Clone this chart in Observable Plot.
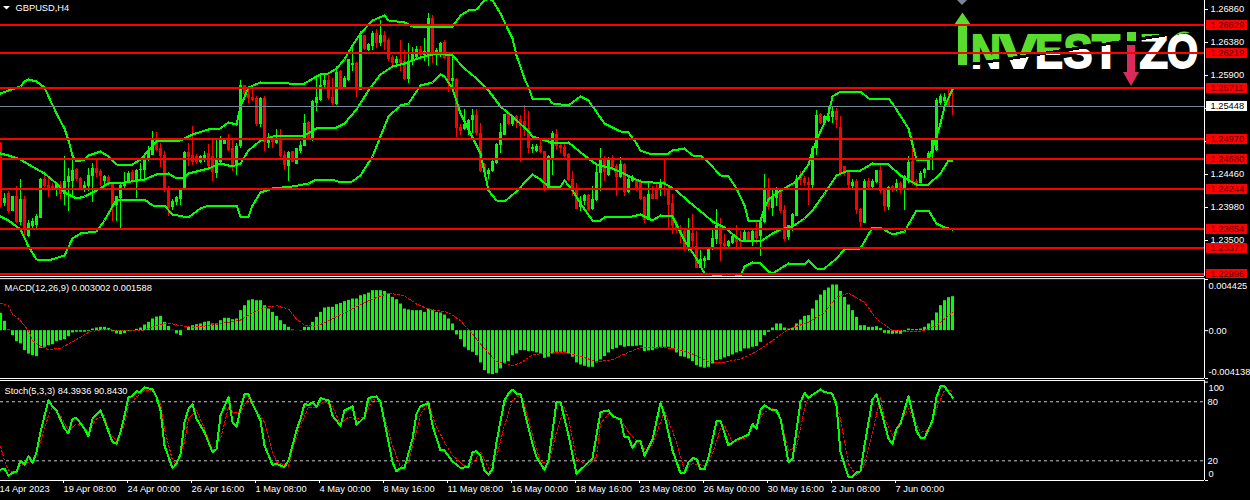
<!DOCTYPE html>
<html><head><meta charset="utf-8">
<script src="https://cdn.jsdelivr.net/npm/d3@7"></script>
<script src="https://cdn.jsdelivr.net/npm/@observablehq/plot@0.6"></script>
<style>
html,body{margin:0;padding:0;background:#000;width:1250px;height:500px;overflow:hidden}
#chart{position:relative;width:1250px;height:500px;background:#000}
#chart svg{position:absolute;left:0;overflow:hidden}
</style></head><body><div id="chart"></div>
<script>
// prices in units of 0.0001
const opens=[12491,12404,12418,12392,12413,12376,12410,12355,12370,12372,
12382,12439,12430,12429,12423,12430,12417,12434,12435,12453,
12440,12426,12428,12443,12455,12450,12435,12442,12433,12400,
12411,12429,12434,12448,12434,12451,12452,12467,12474,12497,
12483,12474,12426,12398,12405,12410,12423,12478,12473,12472,
12464,12469,12476,12472,12447,12464,12490,12498,12483,12457,
12486,12575,12562,12558,12557,12518,12556,12491,12495,12491,
12499,12473,12458,12479,12461,12480,12487,12521,12498,12550,
12553,12575,12583,12558,12548,12596,12573,12583,12605,12608,
12569,12648,12627,12633,12651,12637,12648,12641,12617,12608,
12613,12610,12585,12611,12617,12628,12620,12620,12673,12620,
12620,12638,12620,12581,12585,12515,12512,12511,12524,12532,
12506,12460,12446,12450,12462,12488,12503,12535,12518,12531,
12526,12523,12513,12482,12480,12486,12479,12426,12469,12504,
12488,12485,12475,12438,12424,12398,12406,12415,12395,12408,
12447,12467,12445,12469,12457,12442,12460,12419,12435,12438,
12436,12412,12379,12416,12423,12424,12435,12426,12403,12372,
12365,12362,12338,12360,12341,12309,12319,12321,12336,12351,
12371,12345,12341,12345,12356,12349,12348,12361,12348,12362,
12356,12376,12423,12396,12411,12422,12393,12354,12370,12385,
12443,12440,12434,12430,12484,12533,12521,12523,12529,12537,
12515,12457,12450,12429,12435,12395,12375,12436,12427,12434,
12451,12422,12398,12429,12422,12432,12422,12440,12465,12435,
12433,12447,12452,12476,12481,12550,12552,12555,12546];
const highs=[12492,12418,12421,12413,12428,12439,12413,12379,12382,12387,
12440,12450,12443,12433,12434,12435,12472,12455,12473,12455,
12441,12435,12455,12462,12468,12453,12445,12445,12434,12413,
12434,12448,12450,12451,12453,12462,12472,12486,12508,12507,
12491,12479,12428,12409,12413,12426,12479,12491,12516,12475,
12474,12479,12489,12496,12495,12501,12498,12504,12496,12491,
12583,12576,12571,12571,12559,12558,12560,12506,12501,12512,
12512,12479,12479,12479,12484,12494,12534,12523,12553,12586,
12592,12592,12592,12586,12603,12597,12588,12614,12634,12609,
12654,12649,12637,12654,12657,12670,12654,12644,12620,12618,
12641,12626,12637,12631,12632,12632,12644,12680,12678,12630,
12639,12641,12622,12617,12586,12518,12540,12526,12541,12540,
12520,12462,12455,12466,12491,12520,12534,12536,12532,12532,
12532,12547,12537,12490,12489,12496,12480,12473,12508,12511,
12490,12492,12477,12450,12433,12413,12417,12416,12428,12462,
12484,12472,12471,12473,12460,12471,12462,12445,12445,12439,
12438,12413,12434,12428,12434,12438,12467,12430,12416,12377,
12372,12365,12382,12387,12362,12335,12326,12338,12367,12395,
12382,12358,12350,12358,12372,12362,12364,12362,12364,12379,
12379,12446,12440,12426,12427,12423,12400,12372,12389,12444,
12450,12443,12442,12486,12539,12535,12532,12544,12544,12542,
12530,12458,12452,12439,12438,12396,12438,12440,12438,12452,
12460,12424,12428,12430,12439,12435,12444,12472,12500,12438,
12450,12455,12479,12498,12557,12562,12564,12570,12571];
const lows=[12398,12399,12389,12392,12374,12372,12354,12354,12367,12366,
12381,12427,12412,12422,12413,12409,12401,12392,12411,12436,
12425,12419,12421,12405,12442,12429,12430,12430,12377,12377,
12366,12423,12433,12432,12411,12438,12440,12465,12474,12480,
12456,12419,12385,12393,12401,12401,12422,12458,12459,12461,
12462,12464,12456,12435,12440,12462,12489,12479,12450,12445,
12484,12554,12549,12552,12516,12515,12480,12483,12483,12490,
12470,12452,12435,12463,12460,12477,12486,12495,12494,12537,
12552,12571,12554,12547,12547,12569,12570,12581,12596,12558,
12568,12627,12625,12627,12630,12632,12627,12610,12603,12605,
12596,12583,12579,12605,12615,12617,12610,12603,12608,12605,
12617,12613,12565,12571,12500,12503,12510,12503,12505,12503,
12448,12444,12439,12449,12461,12476,12502,12517,12516,12513,
12464,12501,12476,12476,12478,12477,12421,12425,12444,12481,
12477,12471,12435,12413,12395,12392,12401,12392,12394,12406,
12421,12435,12443,12455,12413,12440,12413,12418,12434,12421,
12408,12374,12378,12409,12409,12413,12413,12365,12358,12360,
12345,12333,12333,12338,12308,12308,12309,12320,12335,12343,
12319,12338,12338,12343,12335,12336,12346,12346,12341,12343,
12326,12374,12393,12384,12399,12389,12348,12350,12362,12384,
12430,12429,12400,12426,12473,12519,12520,12522,12520,12513,
12446,12443,12426,12426,12387,12369,12374,12426,12426,12433,
12418,12392,12394,12419,12421,12418,12394,12432,12430,12427,
12432,12440,12451,12452,12480,12547,12549,12544,12532];
const closes=[12399,12411,12392,12413,12376,12410,12365,12375,12377,12384,
12439,12429,12426,12424,12431,12417,12435,12443,12452,12438,
12426,12430,12444,12455,12447,12443,12443,12432,12399,12413,
12430,12434,12447,12434,12452,12453,12467,12481,12497,12481,
12472,12422,12396,12407,12412,12425,12478,12471,12464,12463,
12472,12474,12457,12448,12467,12498,12497,12481,12456,12487,
12575,12562,12557,12554,12518,12557,12492,12496,12492,12498,
12472,12459,12478,12464,12483,12488,12520,12498,12552,12558,
12576,12583,12557,12549,12594,12570,12586,12614,12608,12571,
12649,12628,12635,12652,12637,12648,12639,12614,12608,12613,
12608,12584,12611,12622,12628,12620,12625,12673,12620,12627,
12637,12615,12581,12586,12513,12508,12518,12525,12532,12505,
12450,12447,12452,12465,12490,12507,12533,12518,12531,12525,
12516,12510,12484,12485,12486,12478,12426,12472,12506,12486,
12483,12472,12437,12426,12395,12406,12415,12394,12409,12448,
12467,12448,12468,12456,12442,12461,12419,12439,12441,12426,
12409,12379,12416,12410,12410,12434,12430,12401,12370,12365,
12358,12338,12367,12348,12309,12322,12324,12337,12353,12371,
12343,12341,12348,12356,12346,12346,12361,12348,12362,12353,
12376,12423,12398,12414,12424,12392,12351,12371,12387,12438,
12437,12432,12430,12484,12532,12520,12530,12530,12537,12525,
12447,12448,12430,12434,12394,12376,12436,12427,12435,12451,
12421,12399,12427,12422,12433,12423,12443,12464,12433,12430,
12447,12453,12477,12497,12554,12560,12558,12545,12545];

// Bollinger bands: [bar, price in 0.0001]
const bandUpper=[[0,12564],[2,12568],[5,12574],[6,12581],[7,12584],[9,12581],[11,12573],[12,12559],[14,12535],[16,12513],[17,12496],[18,12474],[19,12465],[21,12467],[22,12474],[25,12479],[27,12472],[29,12461],[33,12461],[35,12467],[37,12481],[39,12494],[45,12496],[48,12504],[52,12511],[55,12513],[57,12522],[59,12518],[60,12545],[62,12573],[65,12580],[72,12579],[76,12579],[79,12588],
[80,12592],[82,12593],[84,12600],[86,12613],[88,12634],[90,12651],[93,12671],[96,12677],[97,12671],[101,12667],[103,12662],[107,12661],[113,12662],[115,12678],[117,12685],[119,12686],[121,12700],[122,12702],[123,12700],[125,12681],[127,12656],[128,12644],[129,12620],[131,12586],[132,12573],[133,12556],[137,12556],[138,12549],[142,12547],[145,12560],[147,12554],[151,12520],[153,12515],[155,12508],[157,12507],[159,12491],
[160,12481],[162,12477],[167,12476],[168,12481],[171,12483],[173,12474],[175,12474],[177,12464],[180,12445],[182,12443],[184,12426],[186,12401],[187,12379],[190,12379],[191,12396],[192,12409],[195,12422],[199,12435],[202,12460],[203,12481],[205,12508],[207,12535],[208,12559],[210,12567],[215,12567],[217,12556],[222,12557],[223,12549],[227,12513],[228,12489],[229,12468],[232,12467],[234,12501],[235,12520],[236,12545],[238,12570]];
const bandMiddle=[[0,12476],[2,12474],[5,12467],[7,12460],[11,12447],[14,12432],[16,12419],[19,12411],[21,12413],[24,12423],[27,12432],[31,12434],[36,12438],[39,12446],[42,12447],[44,12440],[46,12442],[47,12447],[52,12455],[55,12462],[58,12457],[60,12462],[62,12481],[65,12496],[69,12503],[76,12503],[79,12513],
[80,12515],[84,12515],[86,12520],[89,12540],[92,12569],[95,12591],[98,12603],[101,12608],[105,12617],[109,12622],[113,12620],[116,12600],[119,12586],[122,12569],[125,12545],[128,12530],[132,12508],[133,12501],[137,12494],[138,12491],[142,12492],[146,12474],[149,12460],[153,12455],
[160,12435],[166,12432],[169,12423],[172,12406],[176,12387],[178,12377],[181,12369],[185,12350],[190,12348],[193,12360],[195,12365],[198,12370],[201,12382],[203,12394],[206,12418],[209,12445],[212,12451],[215,12452],[218,12462],[222,12461],[225,12445],[229,12431],[232,12431],[235,12447],[237,12466],[238,12466]];
const bandLower=[[0,12385],[2,12379],[5,12365],[7,12341],[9,12322],[12,12320],[16,12328],[18,12353],[20,12360],[24,12362],[26,12379],[29,12409],[36,12410],[38,12401],[41,12400],[43,12387],[47,12383],[50,12396],[52,12401],[59,12401],[60,12385],[62,12385],[63,12401],[65,12419],[68,12425],[73,12428],[77,12433],[79,12439],
[80,12439],[83,12438],[85,12434],[88,12435],[90,12445],[93,12472],[97,12530],[100,12547],[102,12549],[105,12575],[108,12580],[110,12591],[111,12589],[113,12571],[115,12535],[117,12511],[120,12477],[122,12423],[124,12408],[126,12407],[129,12421],[132,12440],[133,12446],[135,12438],[137,12429],[140,12429],[141,12437],[143,12423],[145,12404],[148,12378],[150,12379],[151,12383],[158,12384],
[160,12387],[163,12379],[165,12386],[168,12385],[171,12350],[174,12324],[176,12301],[180,12299],[181,12294],[185,12299],[186,12311],[188,12317],[190,12316],[192,12304],[193,12302],[197,12316],[201,12315],[202,12321],[204,12309],[206,12309],[209,12324],[211,12337],[215,12338],[218,12369],[220,12369],[223,12358],[226,12362],[229,12393],[232,12393],[234,12374],[236,12368],[238,12366]];

// MACD in units of 0.00001
const macdHist=[150,81,6,-43,-95,-115,-173,-202,-216,-225,-153,-144,-130,-121,-95,-86,-78,-52,-20,-14,
-14,-14,-9,14,23,29,29,20,-9,-29,-35,-26,-9,-3,12,23,49,72,101,118,
124,72,37,3,-29,-43,2,29,43,52,58,72,78,58,58,86,107,107,95,101,
173,216,259,268,259,259,216,187,158,124,86,52,29,6,1,-3,29,29,72,115,
158,196,202,202,225,236,251,262,274,274,302,311,325,346,346,346,340,317,288,268,
230,187,179,173,173,173,158,187,173,158,153,135,101,58,-37,-78,-144,-173,-187,-216,
-279,-346,-374,-380,-369,-331,-282,-268,-216,-202,-173,-173,-181,-181,-193,-202,-239,-230,-202,-187,
-187,-187,-202,-230,-279,-297,-308,-317,-317,-279,-253,-225,-193,-164,-153,-130,-144,-138,-138,-135,
-130,-181,-176,-173,-158,-144,-144,-144,-158,-193,-225,-230,-245,-268,-302,-317,-325,-317,-288,-259,
-251,-236,-225,-210,-193,-181,-158,-158,-144,-138,-101,-43,-14,23,58,58,23,14,20,58,
92,124,130,187,259,308,346,369,395,395,340,288,222,173,115,43,43,29,29,35,
20,-23,-29,-32,-29,-32,-14,14,9,9,14,29,58,86,153,216,259,285,294];
const macdSignal=[[0,239],[2,216],[3,144],[5,86],[7,0],[8,-86],[10,-135],[12,-164],[15,-153],[17,-115],[20,-58],[22,-14],[26,14],[28,6],[32,0],[36,6],[39,43],[42,66],[45,43],[48,29],[52,43],[57,72],[60,92],[62,135],[66,202],[69,216],[72,187],[74,101],[76,49],[79,37],[82,86],[87,173],[92,259],[97,325],[101,302],[104,230],[107,187],[112,158],[115,86],[118,-29],[120,-115],
[123,-230],[124,-268],[128,-302],[130,-279],[133,-210],[137,-193],[141,-187],[145,-222],[149,-268],[153,-251],[156,-202],[160,-144],[165,-144],[169,-158],[173,-202],[177,-268],[180,-279],[185,-245],[189,-181],[193,-86],[197,14],[202,72],[206,158],[209,288],[212,325],[216,245],[219,101],[223,0],[230,-9],[234,43],[238,159]];

// Stochastic
const stochMain=[[0,11],[1,12],[2,5],[3,8],[4,8.5],[5,20],[6,16],[7,25],[8,17.6],[9,29],[10,49],[11,66],[12,81.4],[13,75],[14,71.2],[16,52.6],[17,48],[18,62.7],[19,63.4],[21,52.6],[22,44.8],[23,62.7],[25,71.2],[26,61],[28,39],[29,37.3],[30,49],[31,66],[32,84.8],[33,85.8],[34,90.9],[35,89.9],[36,94.6],[38,92.6],[39,84.8],[40,71.2],[41,35.6],[43,12.6],[44,17],[45,27],[46,59.3],[47,72.9],[48,77.3],[49,62.7],[51,49],[53,28.8],[54,32],[55,66],[57,84.8],[58,59.3],[59,54.3],[60,72.9],[61,87.5],[62,87.5],[63,78],[65,61],[66,35.6],[68,15.9],[69,17],[71,13.6],[72,20.4],[74,50.9],[75,62.7],[76,78],[77,76.3],[78,79.7],[79,74.6],[80,83.7],[82,81.4],[83,66],[85,55.3],[86,71.2],[88,75.3],[89,56.6],[91,64.4],[92,84],[94,85.4],[95,79.7],[97,39],[98,18.7],[99,9.2],[100,12.6],[101,12.6],[103,42.4],[104,67.8],[105,75.3],[107,78.7],[108,56],[110,30.5],[111,30.5],[113,19.4],[115,12.9],[117,13.6],[118,28.8],[119,30],[120,25],
[121,10.2],[122,5.8],[123,11.9],[124,39],[126,81.4],[127,88.2],[128,92.2],[129,88.2],[130,88.2],[131,69.5],[133,37.3],[134,23.7],[136,10.9],[137,20.4],[139,79.7],[140,79.7],[142,45.8],[144,6.8],[148,22.7],[150,69.5],[152,71.2],[153,65.4],[155,62],[156,44.1],[157,44.1],[158,32.9],[159,40],[160,40],[161,25.4],[163,41.4],[165,79],[166,66],[168,30.5],[170,7.5],[171,7.5],[172,18.7],[173,22.7],[174,22],[175,11.2],[176,11.2],[177,23.7],[179,60],[180,60.4],[182,35.6],[184,41.4],[186,44.8],[187,46.5],[188,57.6],[189,52.6],[190,71.9],[191,76.3],[193,71.2],[194,71.2],[195,62.7],[197,18.7],[198,22],[200,79.7],[201,89.2],[202,84.1],[205,92.6],[206,89.9],[208,88.2],[209,76.3],[210,28.8],[212,3.4],[213,3.4],[214,8.5],[215,9.2],[216,35.6],[218,82.4],[219,87.5],[220,72.9],[222,42.4],[223,37.3],[224,52.6],[225,57.6],[227,85.8],[229,50.9],[230,43.1],[231,43.1],[233,61],[234,84.8],[235,95.6],[236,95.6],[238,84.39]];
const stochSignal=[[0,34.6],[1,20.4],[2,10.2],[4,8.5],[5,15.3],[7,18.7],[8,20.4],[10,39],[12,66],[13,74.6],[15,66],[17,50.9],[19,57.6],[21,54.3],[22,49],[24,62.7],[26,66],[27,49],[29,40.7],[31,56],[32,76.3],[34,84.8],[36,91.5],[38,91.5],[40,78],[41,52.6],[43,20.4],[44,15.3],[46,39],[47,62.7],[49,71.2],[51,52.6],[53,30.5],[55,42.4],[57,74.6],[58,69.5],[60,69.5],[62,83],[64,71.2],[66,59.3],[68,28.8],[69,18.7],[72,14.6],[73,32],[75,56],[77,74.6],[79,74.6],[81,80.4],[83,74.6],[85,57.6],[87,64.4],[89,62.7],[91,64.4],[93,83],[95,78],[98,35.6],[100,13.6],[102,18.7],[104,49],[105,67.8],[107,78],[109,54.3],[111,39],[113,25.4],[116,14.6],[118,17],[120,28.8],
[122,12.6],[124,23.7],[126,56],[128,81.4],[130,87],[131,76.3],[133,46],[135,18.7],[137,17],[139,49],[141,74.6],[142,62.7],[144,22],[147,15.3],[149,24],[150,57.6],[152,67.8],[155,62.7],[157,49],[159,40.7],[161,32],[163,35.6],[165,59.3],[166,71.2],[169,39],[171,10],[173,17],[176,15.3],[178,27],[180,52.6],[181,56],[183,39],[186,43],[189,57.6],[191,69.5],[193,73],[195,64.4],[197,30.5],[199,34],[201,73],[202,84.8],[205,91.5],[208,88.2],[210,62.7],[212,17],[214,5],[216,15.3],[218,49],[220,84.8],[221,62.7],[223,46],[225,59.3],[227,73],[230,49],[232,50.9],[234,73],[236,91.5],[238,90.84]];

const priceTicks=[1.2686,1.2638,1.259,1.2542,1.2494,1.2446,1.2398,1.235];
const levels=[1.26629,1.26219,1.25711,1.2497,1.2468,1.24244,1.23654,1.23377,1.22996];
const bid=1.25448;
const timeBars=[0,16,32,48,64,80,96,112,128,144,160,176,192,208,224];
const timeLabels=["14 Apr 2023","19 Apr 08:00","24 Apr 00:00","26 Apr 16:00","1 May 08:00","4 May 00:00","8 May 16:00","11 May 08:00","16 May 00:00","18 May 16:00","23 May 08:00","26 May 00:00","30 May 16:00","2 Jun 08:00","7 Jun 00:00"];
const macdTop=[[0.004425,"0.004425"]], macdMid=[[0,"0.00"]], macdBottom=[[-0.004138,"-0.004138"]];
const stochInner=[[80,"80"],[20,"20"]], stochTop=[[100,"100"]], stochBottom=[[0,"0"]];

const FONT='"Liberation Sans",sans-serif', LIME="#00ff00", RED="#ff0000", WHITE="#ffffff", LAST=301;
const PANEL_BOTTOM=1.229705, PANEL_TOP=1.269956;
const candles=opens.map((o,i)=>({bar:i,o:o/1e4,h:highs[i]/1e4,l:lows[i]/1e4,c:closes[i]/1e4}));
const bull=candles.filter(d=>d.c>=d.o), bear=candles.filter(d=>d.c<d.o);
const pricePts=a=>a.map(([bar,v])=>({bar,v:v/1e4}));
const macdPts=a=>a.map(([bar,v])=>({bar,v:v/1e5}));
const crisp={shapeRendering:"crispEdges"};
const base=(height,marginTop,marginBottom)=>({width:1250,height,marginLeft:0,marginRight:46,marginTop,marginBottom,
  x:{type:"linear",domain:[0,LAST],axis:null,label:null},
  style:{background:"transparent",color:WHITE,fontFamily:FONT,fontSize:"9.3px"}});

function logo(){
  const g=d3.create("svg:g");
  const defs=g.append("defs");
  const SIZE=49, BASE=68, SLOPE=0.151;
  // letter, left edge, width, bold advance (em)
  const letters=[["N",971,30,.722],["V",999.5,38,.667],["E",1035,28,.667],["S",1063.5,29,.667],["T",1092,28,.611],["Z",1139.5,28.5,.611],["O",1167,31,.778]];
  letters.forEach(([s,x,w,adv],k)=>{
    const sx=w/(adv*SIZE), id="logoGrad"+k;
    const m=-SLOPE*sx, b=66-SLOPE*(x-960)-BASE;
    const norm=Math.hypot(m,1), nx=-m/norm, ny=1/norm;
    const gr=defs.append("linearGradient").attr("id",id).attr("gradientUnits","userSpaceOnUse")
      .attr("x1",-nx*25).attr("y1",b-ny*25).attr("x2",nx*25).attr("y2",b+ny*25);
    [[0,"#58dc2e"],[0.47,"#58dc2e"],[0.47,"#000"],[0.53,"#000"],[0.53,"#fff"],[1,"#fff"]].forEach(([o,c])=>gr.append("stop").attr("offset",o).attr("stop-color",c));
    g.append("text").attr("transform",`translate(${x},${BASE}) scale(${sx},1)`).attr("text-anchor","start")
      .attr("font-family",FONT).attr("font-weight","bold").attr("font-size",SIZE)
      .attr("fill",`url(#${id})`).attr("stroke",`url(#${id})`).attr("stroke-width",2).text(s);
  });
  g.append("polygon").attr("points","962.5,12.5 971,25 967,25 967,65 958,65 958,25 954,25").attr("fill","#58dc2e");
  g.append("rect").attr("x",1127).attr("y",32).attr("width",9).attr("height",9).attr("fill","#58dc2e");
  g.append("polygon").attr("points","1131,86 1139,72 1135,72 1135,45 1127,45 1127,72 1123,72").attr("fill","#dc2a5c");
  g.append("polygon").attr("points","957,0 967,0 962,5").attr("fill","#7b8696");
  g.append("path").attr("d","M1174,36 Q1182,29 1190,33 Q1181,33 1174,36Z").attr("fill","#58dc2e");
  g.append("polygon").attr("points","3,6 10,6 6.5,9.5").attr("fill","#fff");
  return g.node();
}

const main=Plot.plot({...base(278,0,2),
  y:{domain:[PANEL_BOTTOM,PANEL_TOP],axis:null,round:true,label:null},
  marks:[
    Plot.axisY(priceTicks,{anchor:"right",tickSize:3,tickPadding:3,label:null,tickFormat:d=>d.toFixed(5)}),
    Plot.ruleX(bull,{x:"bar",y1:"l",y2:"h",stroke:LIME,strokeWidth:1,clip:true}),
    Plot.ruleX(bear,{x:"bar",y1:"l",y2:"h",stroke:RED,strokeWidth:1,clip:true}),
    Plot.ruleX(bull,{x:"bar",y1:"o",y2:"c",stroke:LIME,strokeWidth:3,clip:true}),
    Plot.ruleX(bear,{x:"bar",y1:"o",y2:"c",stroke:RED,strokeWidth:3,clip:true}),
    ...[bandUpper,bandMiddle,bandLower].map(b=>Plot.line(pricePts(b),{x:"bar",y:"v",stroke:LIME,strokeWidth:2,clip:true,...crisp})),
    logo,
    Plot.ruleY([bid],{x1:0,x2:LAST,stroke:"#778899",strokeWidth:1}),
    Plot.ruleY([bid],{x1:LAST+0.5,x2:LAST+10.75,stroke:WHITE,strokeWidth:10,dy:-0.5}),
    Plot.text([bid],{x:LAST,y:d=>d,text:d=>d.toFixed(5),dx:6,textAnchor:"start",fill:"#000"}),
    Plot.ruleY(levels,{x1:0,x2:LAST,stroke:RED,strokeWidth:2,dy:-0.5}),
    Plot.ruleY(levels,{x1:LAST+0.5,x2:LAST+10.75,stroke:RED,strokeWidth:10,dy:-0.5}),
    Plot.text(levels,{x:LAST,y:d=>d,text:d=>d.toFixed(5),dx:6,textAnchor:"start",fill:"#5a0000"}),
    Plot.ruleY([PANEL_BOTTOM],{x1:0,x2:LAST,stroke:WHITE,strokeWidth:1}),
    Plot.ruleX([LAST],{y1:PANEL_BOTTOM,y2:PANEL_TOP,stroke:WHITE,strokeWidth:1}),
    Plot.text(["GBPUSD,H4"],{x:0,frameAnchor:"top",text:d=>d,dx:15,dy:8,textAnchor:"start",lineAnchor:"middle",fill:WHITE})
  ]});
main.style.top="0px";

const macd=Plot.plot({...base(102,1,2),
  y:{domain:[-0.004138,0.004425],axis:null,label:null},
  marks:[
    Plot.axisY([0.004425,0,-0.004138],{anchor:"right",tickSize:3,label:null,tickFormat:()=>""}),
    Plot.ruleX(macdHist.map((v,i)=>({bar:i,v:v/1e5})),{x:"bar",y1:0,y2:"v",stroke:LIME,strokeWidth:3}),
    Plot.line(macdPts(macdSignal),{x:"bar",y:"v",stroke:RED,strokeWidth:1,strokeDasharray:"2,2",...crisp}),
    Plot.text(macdMid,{x:LAST,y:d=>d[0],text:d=>d[1],dx:4,textAnchor:"start",fill:WHITE}),
    Plot.text(macdTop,{x:LAST,y:d=>d[0],text:d=>d[1],dx:4,dy:6.7,textAnchor:"start",fill:WHITE}),
    Plot.text(macdBottom,{x:LAST,y:d=>d[0],text:d=>d[1],dx:4,dy:-6.4,textAnchor:"start",fill:WHITE}),
    Plot.ruleY([-0.004138],{x1:0,x2:LAST,stroke:WHITE,strokeWidth:1}),
    Plot.ruleY([0.0045],{x1:0,x2:LAST,stroke:WHITE,strokeWidth:1}),
    Plot.ruleX([LAST],{y1:-0.004138,y2:0.0045,stroke:WHITE,strokeWidth:1}),
    Plot.text(["MACD(12,26,9) 0.003002 0.001588"],{x:0,frameAnchor:"top",text:d=>d,dx:4,dy:8.5,textAnchor:"start",lineAnchor:"middle",fill:WHITE})
  ]});
macd.style.top="278px";

const stoch=Plot.plot({...base(120,1.6,20),
  y:{domain:[0,100],axis:null,label:null},
  marks:[
    Plot.axisY([100,0],{anchor:"right",tickSize:3,label:null,tickFormat:()=>""}),
    Plot.axisX(timeBars,{anchor:"bottom",tickSize:3,tickPadding:2,label:null,textAnchor:"start",dx:-1,tickFormat:d=>timeLabels[timeBars.indexOf(d)]}),
    Plot.ruleY([80,20],{x1:0,x2:LAST,stroke:"#c8c8c8",strokeWidth:1,strokeDasharray:"3,3"}),
    Plot.line(stochSignal.map(([bar,v])=>({bar,v})),{x:"bar",y:"v",stroke:RED,strokeWidth:1,strokeDasharray:"2,2",...crisp}),
    Plot.line(stochMain.map(([bar,v])=>({bar,v})),{x:"bar",y:"v",stroke:LIME,strokeWidth:2,...crisp}),
    Plot.text(stochInner,{x:LAST,y:d=>d[0],text:d=>d[1],dx:3,textAnchor:"start",fill:WHITE}),
    Plot.text(stochTop,{x:LAST,y:d=>d[0],text:d=>d[1],dx:4,dy:6,textAnchor:"start",fill:WHITE}),
    Plot.text(stochBottom,{x:LAST,y:d=>d[0],text:d=>d[1],dx:4,dy:-6,textAnchor:"start",fill:WHITE}),
    Plot.ruleY([0],{x1:0,x2:LAST,stroke:WHITE,strokeWidth:1}),
    Plot.ruleY([101.6],{x1:0,x2:LAST,stroke:WHITE,strokeWidth:1}),
    Plot.ruleX([LAST],{y1:0,y2:101.6,stroke:WHITE,strokeWidth:1}),
    Plot.text(["Stoch(5,3,3) 84.3936 90.8430"],{x:0,frameAnchor:"top",text:d=>d,dx:4,dy:9,textAnchor:"start",lineAnchor:"middle",fill:WHITE})
  ]});
stoch.style.top="380px";

document.getElementById("chart").append(main,macd,stoch);
</script></body></html>
